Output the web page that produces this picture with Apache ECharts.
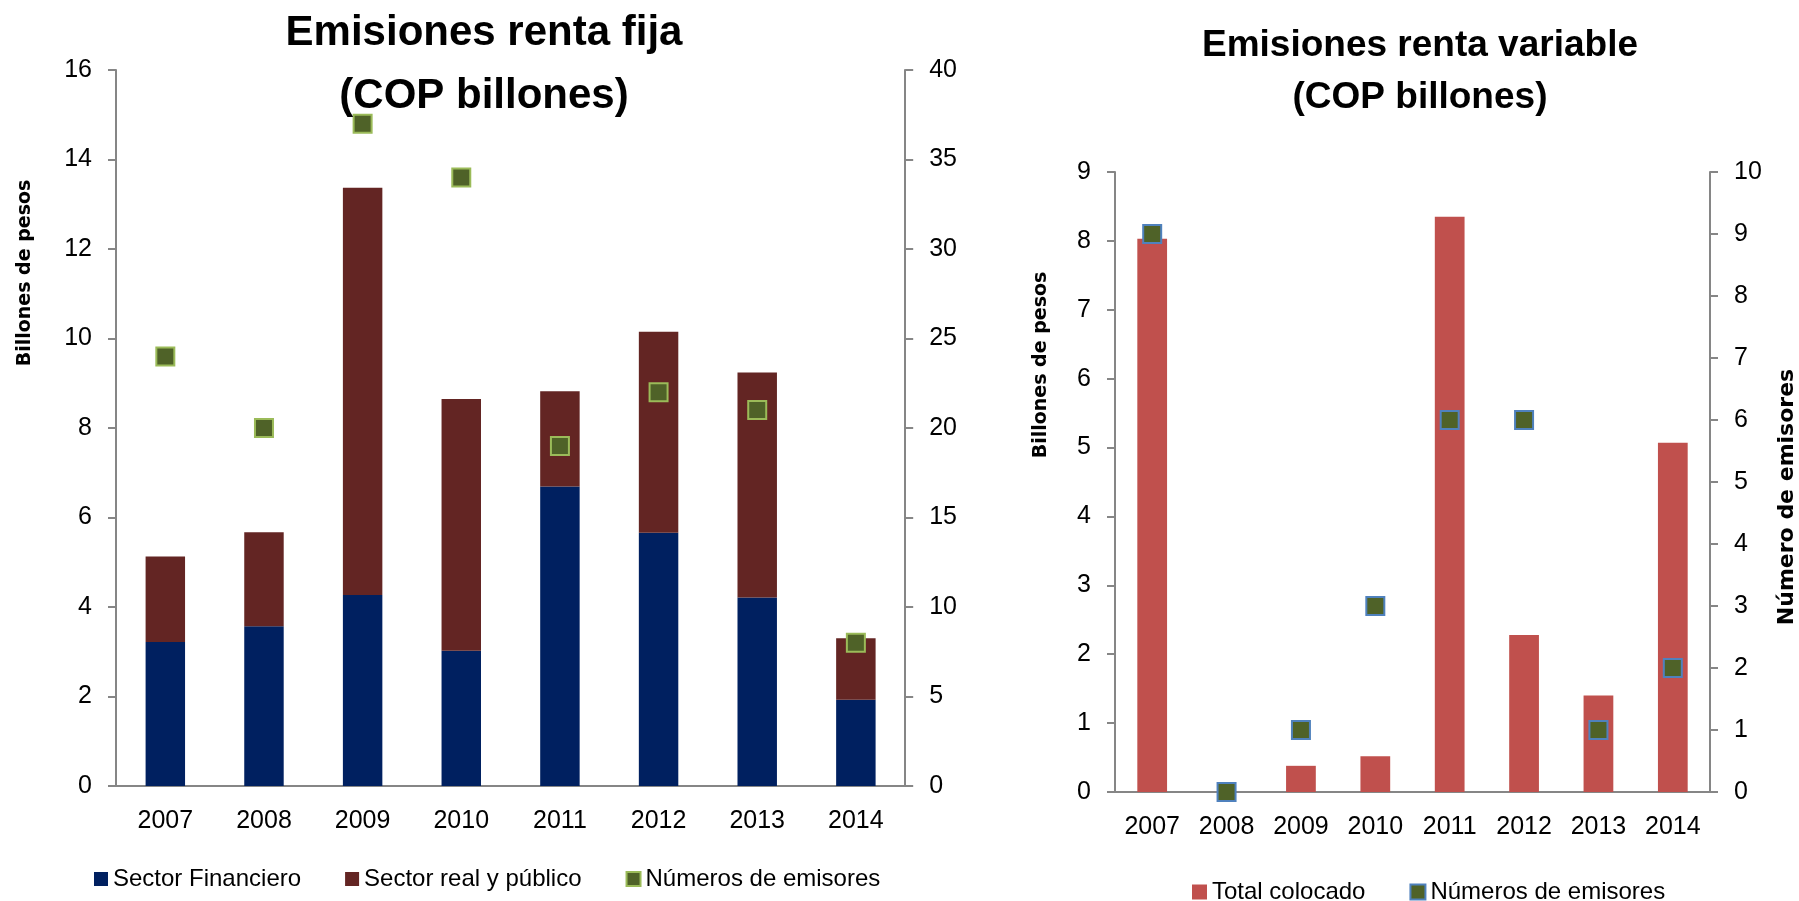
<!DOCTYPE html>
<html>
<head>
<meta charset="utf-8">
<title>Emisiones</title>
<script src="https://cdn.jsdelivr.net/npm/echarts@6/dist/echarts.min.js"></script>
<style>
	html, body { margin: 0; padding: 0; background: #fff; }
	#fija { position: absolute; left: 0; top: 0; width: 960px; height: 901px; }
	#variable { position: absolute; left: 960px; top: 0; width: 839px; height: 901px; }
</style>
</head>
<body>
<div id="fija"></div>
<div id="variable"></div>
<script>
	// datos
	const years = ["2007", "2008", "2009", "2010", "2011", "2012", "2013", "2014"];
	const sectorFinanciero = [3.22, 3.57, 4.27, 3.02, 6.69, 5.66, 4.21, 1.93];
	const sectorRealPublico = [1.91, 2.10, 9.10, 5.63, 2.13, 4.49, 5.03, 1.37];
	const emisoresFija = [24, 20, 37, 34, 19, 22, 21, 8];
	const totalColocado = [8.03, 0, 0.38, 0.52, 8.35, 2.28, 1.40, 5.07];
	const emisoresVariable = [9, 0, 1, 3, 6, 6, 1, 2];

	const FONT = "'Liberation Sans', Arial, sans-serif";
	const NAME_FONT = "'DejaVu Sans', Verdana, sans-serif";
	const gray = "#868686";

	function valueAxis(min, max, interval, position) {
		return {
			type: "value",
			min: min,
			max: max,
			interval: interval,
			position: position,
			splitLine: { show: false },
			axisLine: { show: true, lineStyle: { color: gray, width: 2 } },
			axisTick: { show: true, length: 8, lineStyle: { color: gray, width: 2 } },
			axisLabel: { color: "#000", fontSize: 25, fontFamily: FONT, margin: 24 },
		};
	}

	function categoryAxis() {
		return {
			type: "category",
			data: years,
			axisLine: { lineStyle: { color: gray, width: 2 } },
			axisTick: { length: 8, lineStyle: { color: gray, width: 2 } },
			axisLabel: { color: "#000", fontSize: 25, fontFamily: FONT, margin: 23 },
		};
	}

	function axisName(text, x, y, size) {
		return {
			type: "text",
			x: x,
			y: y,
			rotation: Math.PI / 2,
			style: {
				text: text,
				fontSize: size,
				fontWeight: "bold",
				fontFamily: NAME_FONT,
				fill: "#000",
				textAlign: "center",
				verticalAlign: "middle",
				textVerticalAlign: "middle",
			},
		};
	}

	const fija = echarts.init(document.getElementById("fija"));
	fija.setOption({
		animation: false,
		title: {
			text: "Emisiones renta fija\n(COP billones)",
			left: 484,
			top: 2,
			padding: 0,
			textAlign: "center",
			textStyle: { fontSize: 42, fontWeight: "bold", fontFamily: FONT, color: "#000", lineHeight: 63 },
		},
		grid: { left: 116, right: 53, top: 70, bottom: 115 },
		legend: {
			left: 89,
			top: 862,
			icon: "rect",
			itemWidth: 14,
			itemHeight: 14,
			itemGap: 44,
			textStyle: { fontSize: 24, color: "#000", fontFamily: FONT },
			data: ["Sector Financiero", "Sector real y público", "Números de emisores"],
		},
		xAxis: categoryAxis(),
		yAxis: [valueAxis(0, 16, 2, "left"), valueAxis(0, 40, 5, "right")],
		graphic: [axisName("Billones de pesos", 25, 273, 19)],
		series: [
			{
				name: "Sector Financiero",
				type: "bar",
				stack: "total",
				barWidth: "40%",
				itemStyle: { color: "#002060" },
				data: sectorFinanciero,
			},
			{
				name: "Sector real y público",
				type: "bar",
				stack: "total",
				barWidth: "40%",
				itemStyle: { color: "#632523" },
				data: sectorRealPublico,
			},
			{
				name: "Números de emisores",
				type: "scatter",
				yAxisIndex: 1,
				symbol: "rect",
				symbolSize: 18,
				z: 5,
				itemStyle: { color: "#4F6228", borderColor: "#9BBB59", borderWidth: 2, opacity: 1 },
				data: emisoresFija,
			},
		],
	});

	const variable = echarts.init(document.getElementById("variable"));
	variable.setOption({
		animation: false,
		title: {
			text: "Emisiones renta variable\n(COP billones)",
			left: 460,
			top: 20,
			padding: 0,
			textAlign: "center",
			textStyle: { fontSize: 37, fontWeight: "bold", fontFamily: FONT, color: "#000", lineHeight: 52 },
		},
		grid: { left: 155, right: 89, top: 172, bottom: 109 },
		legend: {
			left: 227,
			top: 875,
			icon: "rect",
			itemWidth: 15,
			itemHeight: 15,
			itemGap: 44,
			textStyle: { fontSize: 24, color: "#000", fontFamily: FONT },
			data: ["Total colocado", "Números de emisores"],
		},
		xAxis: categoryAxis(),
		yAxis: [valueAxis(0, 9, 1, "left"), valueAxis(0, 10, 1, "right")],
		graphic: [
			axisName("Billones de pesos", 81, 365, 19),
			axisName("Número de emisores", 827, 497, 22),
		],
		series: [
			{
				name: "Total colocado",
				type: "bar",
				barWidth: "40%",
				itemStyle: { color: "#C0504D" },
				data: totalColocado,
			},
			{
				name: "Números de emisores",
				type: "scatter",
				yAxisIndex: 1,
				symbol: "rect",
				symbolSize: 18,
				z: 5,
				itemStyle: { color: "#4F6228", borderColor: "#4F81BD", borderWidth: 2, opacity: 1 },
				data: emisoresVariable,
			},
		],
	});
</script>
</body>
</html>
